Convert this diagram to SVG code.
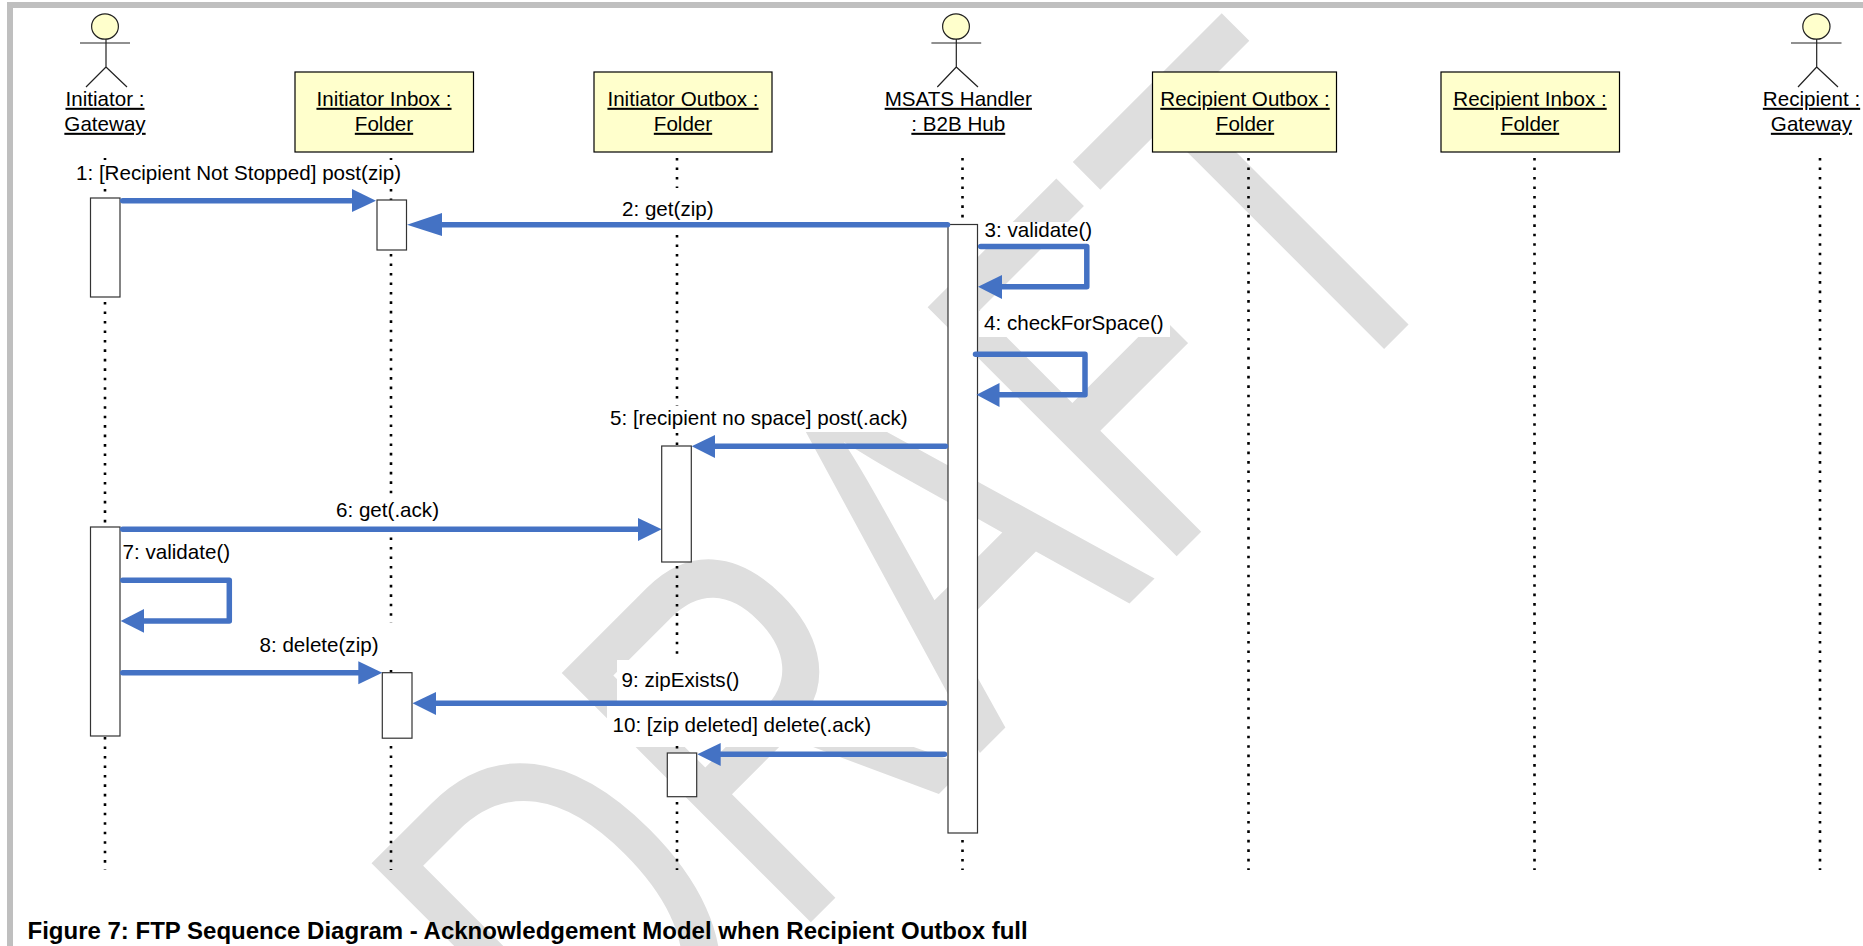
<svg xmlns="http://www.w3.org/2000/svg" width="1863" height="946" viewBox="0 0 1863 946">
<style>
text{font-family:"Liberation Sans",Arial,sans-serif;font-size:20.6px;fill:#000}
.c{text-anchor:middle;text-decoration:underline}
.box{fill:#ffffcc;stroke:#000;stroke-width:1.2}
.act{fill:#fff;stroke:#333;stroke-width:1.2}
.life{stroke:#000;stroke-width:2.6;stroke-dasharray:2.6 6.87;fill:none}
.msg{stroke:#4472c4;stroke-width:5.5;fill:none;stroke-linecap:round;stroke-linejoin:round}
.hd{fill:#4472c4}
.stk{fill:none;stroke:#222;stroke-width:1.2}
.head{fill:#ffffcc;stroke:#222;stroke-width:1.2}
.bg{fill:#fff}
</style>
<rect width="1863" height="946" fill="#fff"/>
<path d="M7 2H1863V8H13V946H7Z" fill="#bfbfbf"/>
<text id="watermark" transform="translate(599 1134) rotate(-45) scale(.7275 1)" style="font-size:512px;fill:#dedede">DRAFT</text>
<g id="label-backgrounds">
<path class="bg" d="M1137 292L1200 355L1270 285L1207 222Z"/>
<rect class="bg" x="979" y="222" width="112" height="22"/>
<rect class="bg" x="979" y="311" width="191" height="26"/>
<rect class="bg" x="608" y="385" width="340" height="47"/>
<rect class="bg" x="617" y="660" width="146" height="44"/>
<rect class="bg" x="607" y="704" width="341" height="43"/>
</g>
<g id="lifelines">
<path class="life" d="M105 158V160M105 189V198M105 302V527M105 737V870"/>
<path class="life" d="M391 158V160M391 189V200M391 254V494M391 528V623M391 670V673M391 746V870"/>
<path class="life" d="M677 158V188M677 235V406M677 433V446M677 566V660M677 746V753M677 802V870"/>
<path class="life" d="M962.500 158V219M962.500 840V870"/>
<path class="life" d="M1248.500 158V870M1534.500 158V870M1820 158V870"/>
</g>
<g id="n1"><ellipse class="head" cx="105" cy="26.5" rx="13.4" ry="12.7"/><path class="stk" d="M106 39V67M80 43H130M106 67L86 87M106 67L127 87"/><text class="c" x="105" y="105.800">Initiator :</text><text class="c" x="105" y="130.800">Gateway</text></g>
<g id="n2"><rect class="box" x="295" y="72" width="178.500" height="80"/><text class="c" x="384" y="105.800">Initiator Inbox :</text><text class="c" x="384" y="130.800">Folder</text></g>
<g id="n3"><rect class="box" x="594" y="72" width="178" height="80"/><text class="c" x="683" y="105.800">Initiator Outbox :</text><text class="c" x="683" y="130.800">Folder</text></g>
<g id="n4"><ellipse class="head" cx="956" cy="26.5" rx="13.4" ry="12.7"/><path class="stk" d="M956.300 39V67M931.400 43H981.200M956.300 67L937.300 87M956.300 67L978 87"/><text class="c" x="958.300" y="105.800">MSATS Handler</text><text class="c" x="958.300" y="130.800">: B2B Hub</text></g>
<g id="n5"><rect class="box" x="1152.500" y="72" width="184" height="80"/><text class="c" x="1245" y="105.800">Recipient Outbox :</text><text class="c" x="1245" y="130.800">Folder</text></g>
<g id="n6"><rect class="box" x="1441" y="72" width="178.500" height="80"/><text class="c" x="1530" y="105.800">Recipient Inbox :</text><text class="c" x="1530" y="130.800">Folder</text></g>
<g id="n7"><ellipse class="head" cx="1816.400" cy="26.5" rx="13.6" ry="12.7"/><path class="stk" d="M1816.700 39V67M1791 43H1841.500M1816.700 67L1798 87M1816.700 67L1838 87"/><text class="c" x="1811.500" y="105.800">Recipient :</text><text class="c" x="1811.500" y="130.800">Gateway</text></g>
<g id="activations">
<rect class="act" x="90.500" y="198" width="29.500" height="99"/>
<rect class="act" x="377" y="200" width="29.500" height="50"/>
<rect class="act" x="948" y="224.500" width="29.500" height="608.500"/>
<rect class="act" x="661.700" y="446" width="29.600" height="116"/>
<rect class="act" x="90.500" y="527" width="29.500" height="209"/>
<rect class="act" x="382.300" y="672.700" width="29.700" height="65.500"/>
<rect class="act" x="667.300" y="753" width="29.400" height="43.700"/>
</g>
<g id="connectors">
<path class="msg" d="M122.700 200.700H355"/><path class="hd" d="M352 189L376 200.700L352 212Z"/>
<path class="msg" d="M947.500 224.700H440"/><path class="hd" d="M407 224.700L442 213V236Z"/>
<path class="msg" d="M980.700 246.500H1086.800V286.700H1000"/><path class="hd" d="M978 286.700L1002 275V299Z"/>
<path class="msg" d="M975.500 354.300H1085V394.700H998"/><path class="hd" d="M976.500 394.700L999.500 383V407Z"/>
<path class="msg" d="M945.500 446.300H713"/><path class="hd" d="M691.700 446.300L715 435V458Z"/>
<path class="msg" d="M122.700 529.300H640"/><path class="hd" d="M661.700 529.300L638 518V541Z"/>
<path class="msg" d="M122.700 580.300H229.300V621H142"/><path class="hd" d="M120.700 621L144 609V632.700Z"/>
<path class="msg" d="M122.700 672.700H360"/><path class="hd" d="M382.300 672.700L358.300 661.300V684.300Z"/>
<path class="msg" d="M944.500 703.300H435"/><path class="hd" d="M412.500 703.300L436 692V715Z"/>
<path class="msg" d="M944.500 754.300H719"/><path class="hd" d="M697.300 754.300L720.700 743V766Z"/>
</g>
<g id="labels">
<text x="76" y="180.300">1: [Recipient Not Stopped] post(zip)</text>
<text x="622" y="215.800">2: get(zip)</text>
<text x="984.500" y="237.300">3: validate()</text>
<text x="984" y="329.800">4: checkForSpace()</text>
<text x="610" y="424.800">5: [recipient no space] post(.ack)</text>
<text x="336" y="516.800">6: get(.ack)</text>
<text x="122.500" y="558.800">7: validate()</text>
<text x="259.500" y="651.800">8: delete(zip)</text>
<text x="621.500" y="687.300">9: zipExists()</text>
<text x="612.500" y="731.800">10: [zip deleted] delete(.ack)</text>
<text x="27.500" y="938.500" style="font-weight:bold;font-size:24px">Figure 7: FTP Sequence Diagram - Acknowledgement Model when Recipient Outbox full</text>
</g>
</svg>
